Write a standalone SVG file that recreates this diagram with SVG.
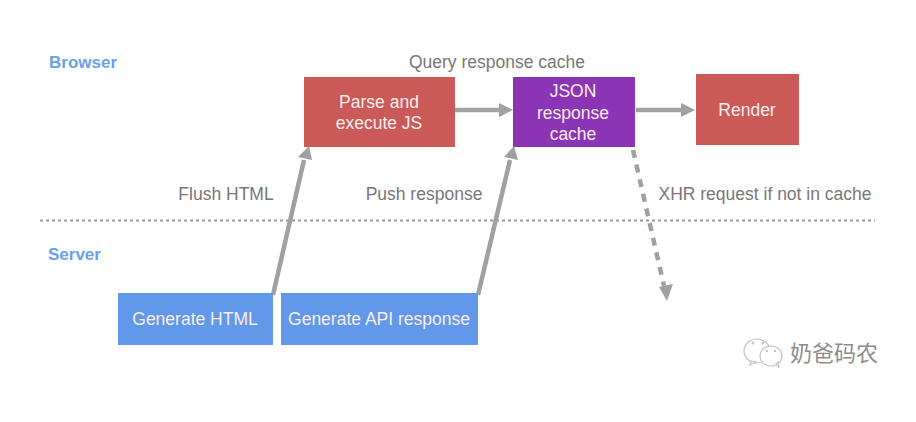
<svg xmlns="http://www.w3.org/2000/svg" width="916" height="422" viewBox="0 0 916 422">
<style>
text{font-family:"Liberation Sans",Arial,sans-serif;font-size:17.500px;text-anchor:middle}
.w{fill:#fbeeee}
.l{fill:#777}
.h{fill:#6aa0e6;font-size:17px;font-weight:bold;text-anchor:start}
.a{stroke:#a0a0a0;stroke-width:4.500;fill:none}
.p{fill:#a0a0a0}
.b{fill:#fff;stroke:#c4c4c4;stroke-width:1.200}
</style>
<rect width="916" height="422" fill="#fff"/>
<text class="h" x="49" y="67.500">Browser</text>
<text class="h" x="48" y="260">Server</text>
<text class="l" x="497" y="68">Query response cache</text>
<text class="l" x="226" y="199.500">Flush HTML</text>
<text class="l" x="424" y="199.500">Push response</text>
<text class="l" x="765" y="199.500">XHR request if not in cache</text>
<g id="connectors">
<line x1="40" y1="220.500" x2="875" y2="220.500" stroke="#999" stroke-width="2" stroke-dasharray="3 3"/>
<line class="a" x1="273" y1="295" x2="304" y2="160"/>
<polygon class="p" points="309,146 312,160 298,157"/>
<line class="a" x1="478" y1="295" x2="510" y2="160"/>
<polygon class="p" points="514,146 518,160 504,157"/>
<line class="a" x1="455" y1="110" x2="500" y2="110"/>
<polygon class="p" points="513,110 499,103 499,117"/>
<line class="a" x1="636" y1="110" x2="682" y2="110"/>
<polygon class="p" points="695,110 681,103 681,117"/>
<line class="a" stroke-dasharray="8 7" stroke-width="5" x1="633" y1="150" x2="664" y2="286"/>
<polygon class="p" points="667,301 659,287 673,284"/>
</g>
<g id="parse"><rect x="304" y="77" width="151" height="70" fill="#cb5958"/><text class="w" x="379" y="108">Parse and</text><text class="w" x="379" y="129">execute JS</text></g>
<g id="cache"><rect x="513" y="77" width="122" height="70" fill="#8b34b5"/><text class="w" x="573" y="97">JSON</text><text class="w" x="573" y="119">response</text><text class="w" x="573" y="140">cache</text></g>
<g id="render"><rect x="696" y="74" width="103" height="71" fill="#cb5958"/><text class="w" x="747" y="116">Render</text></g>
<g id="html"><rect x="118" y="293" width="155" height="52" fill="#6298ea"/><text class="w" x="195" y="324.500">Generate HTML</text></g>
<g id="api"><rect x="281" y="293" width="197" height="52" fill="#6298ea"/><text class="w" x="379" y="324.500">Generate API response</text></g>
<g id="watermark">
<ellipse class="b" cx="757" cy="351" rx="13" ry="12"/>
<path class="b" d="M751 361l-1 4 6-3z"/>
<ellipse class="b" cx="771" cy="356" rx="11" ry="10"/>
<path class="b" d="M776 364l3 4-1-6z"/>
<circle cx="753" cy="343" r="1.500" fill="#c4c4c4"/><circle cx="763" cy="343" r="1.500" fill="#c4c4c4"/>
<circle cx="767" cy="351" r="1.200" fill="#c4c4c4"/><circle cx="775" cy="351" r="1.200" fill="#c4c4c4"/>
<text x="834" y="361" style="font-family:'Noto Sans CJK SC',sans-serif;font-size:22px" fill="#8c8c8c">奶爸码农</text>
</g>
</svg>
